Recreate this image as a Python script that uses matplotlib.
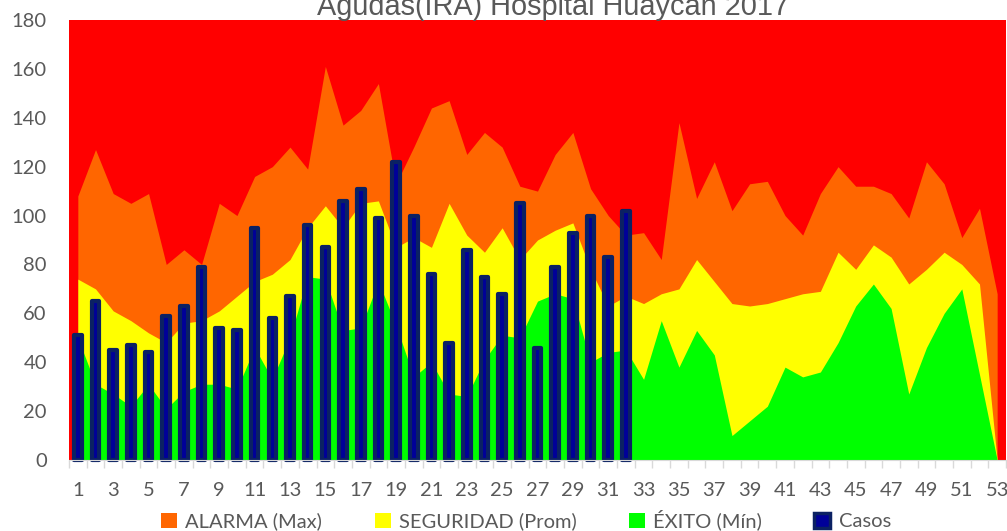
import numpy as np
import matplotlib
matplotlib.use("Agg")
import matplotlib.pyplot as plt
from matplotlib.patches import Patch

# semanas epidemiologicas 1..53
weeks = np.arange(1, 54)
week_labels = [str(w) for w in weeks[::2]]

# canal endemico (areas)
alarma = [108, 127, 109, 105, 109, 80, 86, 80, 105, 100,
          116, 120, 128, 119, 161, 137, 143, 154, 113, 128,
          144, 147, 125, 134, 128, 112, 110, 125, 134, 111,
          100, 92, 93, 82, 138, 107, 122, 102, 113, 114,
          100, 92, 109, 120, 112, 112, 109, 99, 122, 113,
          91, 103, 68]
seguridad = [74, 70, 61, 57, 52, 48, 56, 57, 61, 67,
             73, 76, 82, 95, 104, 95, 105, 106, 87, 91,
             87, 105, 92, 85, 95, 82, 90, 94, 97, 78,
             63, 67, 64, 68, 70, 82, 73, 64, 63, 64,
             66, 68, 69, 85, 78, 88, 83, 72, 78, 85,
             80, 72, 0]
exito = [50, 31, 27, 22, 31, 21, 28, 31, 31, 29,
         46, 33, 50, 75, 74, 53, 54, 73, 55, 34,
         40, 27, 26, 41, 51, 50, 65, 68, 66, 40,
         44, 45, 33, 57, 38, 53, 43, 10, 16, 22,
         38, 34, 36, 48, 63, 72, 62, 27, 46, 60,
         70, 35, 0]

# casos notificados (semanas 1..32)
casos = [51, 65, 45, 47, 44, 59, 63, 79, 54, 53,
         95, 58, 67, 96, 87, 106, 111, 99, 122, 100,
         76, 48, 86, 75, 68, 105, 46, 79, 93, 100,
         83, 102]

plt.rcParams['font.family'] = ['Lato', 'DejaVu Sans']
txt_color = '#595959'

fig = plt.figure(figsize=(10.07, 5.31), dpi=100)
ax = fig.add_axes([69 / 1007, 1 - 460 / 531, 937 / 1007, 440 / 531])
ax.set_facecolor('#FF0000')

ax.fill_between(weeks, 0, alarma, color='#FF6600', lw=0)
ax.fill_between(weeks, 0, seguridad, color='#FFFF00', lw=0)
ax.fill_between(weeks, 0, exito, color='#00FF00', lw=0)

bars = ax.bar(weeks[:len(casos)], casos, width=0.43, color='#000099',
              edgecolor='#0B2163', linewidth=3, zorder=3)
for b in bars:
    b.set_joinstyle('round')
    b.set_clip_on(False)

ax.set_xlim(0.5, 53.5)
ax.set_ylim(0, 180)

ax.set_xticks(weeks[::2])
ax.set_xticklabels(week_labels)
ax.set_xticks(np.arange(0.5, 54, 1), minor=True)
ax.tick_params(axis='x', which='major', length=0, pad=16, labelsize=14.5, labelcolor=txt_color)
ax.tick_params(axis='x', which='minor', length=6, color='#D9D9D9', width=1)
ax.set_yticks(range(0, 181, 20))
ax.tick_params(axis='y', length=0, pad=16, labelsize=14.5, labelcolor=txt_color)

for s in ['top', 'right', 'left']:
    ax.spines[s].set_visible(False)
ax.spines['bottom'].set_color('#D9D9D9')
ax.spines['bottom'].set_zorder(4)

# titulo (recortado arriba como en el original)
fig.text(553 / 1007, 1 - 15 / 531, 'Agudas(IRA) Hospital Huaycan 2017',
         ha='center', va='baseline', fontsize=20.8, color=txt_color,
         family='Liberation Sans')

handles = [Patch(facecolor='#FF6600', edgecolor='none'),
           Patch(facecolor='#FFFF00', edgecolor='none'),
           Patch(facecolor='#00FF00', edgecolor='none'),
           Patch(facecolor='#000099', edgecolor='#0B2163', linewidth=2.5)]
labels = ['ALARMA (Max)', 'SEGURIDAD (Prom)', 'ÉXITO (Mín)', 'Casos']
fig.legend(handles, labels, loc='center', bbox_to_anchor=(526 / 1007, 1 - 520 / 531),
           ncol=4, frameon=False, fontsize=14.5, labelcolor=txt_color,
           handlelength=0.8, handleheight=0.8, handletextpad=0.4, columnspacing=2.6,
           borderpad=0)

fig.savefig('out.png', dpi=100)
